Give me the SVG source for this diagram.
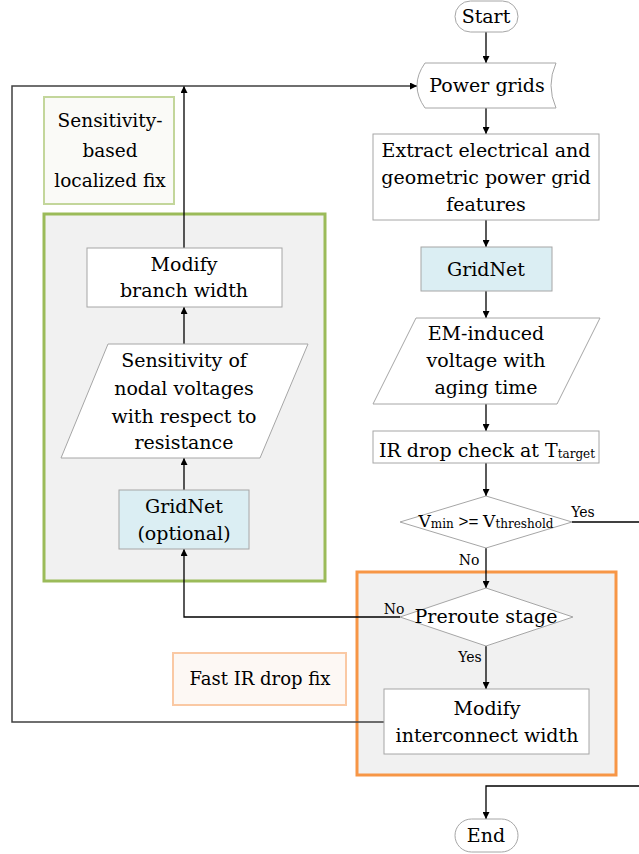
<svg xmlns="http://www.w3.org/2000/svg" width="639" height="854" viewBox="0 0 639 854">
<defs>
<marker id="arr" viewBox="0 0 10 10" refX="10" refY="5" markerWidth="7" markerHeight="7" markerUnits="userSpaceOnUse" orient="auto">
<path d="M0,0 L10,5 L0,10 Z" fill="#000"/>
</marker>
</defs>
<style>
text{font-family:"DejaVu Serif","Liberation Serif",serif;font-size:19px;fill:#000;text-anchor:middle}
.lbl{font-size:14px}
.sub{font-size:12px}
.box{fill:#fff;stroke:#a6a6a6;stroke-width:1}
.blue{fill:#dbeef3;stroke:#a6a6a6;stroke-width:1}
.con{fill:none;stroke:#000;stroke-width:1.3}
.loop{fill:none;stroke:#404040;stroke-width:1.5}
</style>
<rect width="639" height="854" fill="#fff"/>

<g id="group-green">
<rect x="44" y="214" width="281" height="367" fill="#f1f1f1" stroke="#9bbb59" stroke-width="3"/>
</g>
<g id="group-orange">
<rect x="357" y="572" width="259" height="203" fill="#f1f1f1" stroke="#f79646" stroke-width="3"/>
</g>
<g id="label-sensitivity">
<rect x="44" y="97" width="130" height="107" fill="#fafaf7" stroke="#c3d69b" stroke-width="2"/>
<text x="110" y="127" style="font-size:18.5px">Sensitivity-</text>
<text x="110" y="157" style="font-size:18.5px">based</text>
<text x="110" y="187" style="font-size:18.5px">localized fix</text>
</g>
<g id="label-fast">
<rect x="173" y="653" width="173" height="52" fill="#fdf8f4" stroke="#fac9a4" stroke-width="2"/>
<text x="260" y="685" style="font-size:18px">Fast IR drop fix</text>
</g>

<g id="connectors">
<line class="con" x1="486" y1="32" x2="486" y2="63" marker-end="url(#arr)"/>
<line class="con" x1="486" y1="108" x2="486" y2="134" marker-end="url(#arr)"/>
<line class="con" x1="486" y1="220" x2="486" y2="247" marker-end="url(#arr)"/>
<line class="con" x1="486" y1="291" x2="486" y2="318" marker-end="url(#arr)"/>
<line class="con" x1="486" y1="404" x2="486" y2="431" marker-end="url(#arr)"/>
<line class="con" x1="486" y1="463" x2="486" y2="496" marker-end="url(#arr)"/>
<line class="con" x1="572" y1="522" x2="639" y2="522"/>
<line class="con" x1="486" y1="548" x2="486" y2="588" marker-end="url(#arr)"/>
<line class="con" x1="486" y1="646" x2="486" y2="689" marker-end="url(#arr)"/>
<polyline class="con" points="400,617 184,617 184,549" marker-end="url(#arr)"/>
<line class="con" x1="184" y1="490" x2="184" y2="458" marker-end="url(#arr)"/>
<line class="con" x1="184" y1="344" x2="184" y2="307" marker-end="url(#arr)"/>
<line class="con" x1="184" y1="248" x2="184" y2="86" marker-end="url(#arr)"/>
<polyline class="loop" points="384,722 12,722 12,86 417,86" marker-end="url(#arr)"/>
<polyline class="con" points="639,786 486,786 486,819" marker-end="url(#arr)"/>
<text class="lbl" x="583" y="517">Yes</text>
<text class="lbl" x="469" y="565">No</text>
<text class="lbl" x="394" y="614">No</text>
<text class="lbl" x="470" y="662">Yes</text>
</g>

<g id="start">
<rect class="box" x="455" y="1" width="63" height="31" rx="15.5"/>
<text x="486" y="23">Start</text>
</g>
<g id="power-grids">
<path class="box" d="M425,63 H556 Q546,85.5 556,108 H425 Q409,85.5 425,63 Z"/>
<text x="487" y="92">Power grids</text>
</g>
<g id="extract">
<rect class="box" x="373" y="134" width="226" height="86"/>
<text x="486" y="157">Extract electrical and</text>
<text x="486" y="184">geometric power grid</text>
<text x="486" y="211">features</text>
</g>
<g id="gridnet">
<rect class="blue" x="421" y="247" width="131" height="44"/>
<text x="486" y="276">GridNet</text>
</g>
<g id="em-voltage">
<path class="box" d="M416,318 H600 L557,404 H373 Z"/>
<text x="486" y="340">EM-induced</text>
<text x="486" y="367">voltage with</text>
<text x="486" y="394">aging time</text>
</g>
<g id="ir-check">
<rect class="box" x="373" y="431" width="226" height="32"/>
<text x="487" y="457">IR drop check at T<tspan class="sub" dy="1">target</tspan></text>
</g>
<g id="vmin-check">
<path class="box" d="M486,496 L572,522 L486,548 L400,522 Z"/>
<text x="486" y="527" style="font-size:17px">V<tspan class="sub" dy="1">min</tspan><tspan dy="-1" style="font-family:'Liberation Sans',sans-serif"> &gt;= </tspan>V<tspan class="sub" dy="1">threshold</tspan></text>
</g>
<g id="preroute">
<path class="box" d="M486,588 L573,617 L486,646 L400,617 Z"/>
<text x="486" y="623">Preroute stage</text>
</g>
<g id="modify-interconnect">
<rect class="box" x="384" y="689" width="205" height="65"/>
<text x="487" y="715">Modify</text>
<text x="487" y="742">interconnect width</text>
</g>
<g id="end">
<rect class="box" x="455" y="819" width="63" height="33" rx="16.5"/>
<text x="486" y="842">End</text>
</g>
<g id="modify-branch">
<rect class="box" x="87" y="248" width="195" height="59"/>
<text x="184" y="271">Modify</text>
<text x="184" y="297">branch width</text>
</g>
<g id="sensitivity">
<path class="box" d="M108,344 H308 L260,458 H61 Z"/>
<text x="184" y="367">Sensitivity of</text>
<text x="184" y="395">nodal voltages</text>
<text x="184" y="423">with respect to</text>
<text x="184" y="449">resistance</text>
</g>
<g id="gridnet-optional">
<rect class="blue" x="119" y="490" width="130" height="59"/>
<text x="184" y="513">GridNet</text>
<text x="184" y="540">(optional)</text>
</g>
</svg>
